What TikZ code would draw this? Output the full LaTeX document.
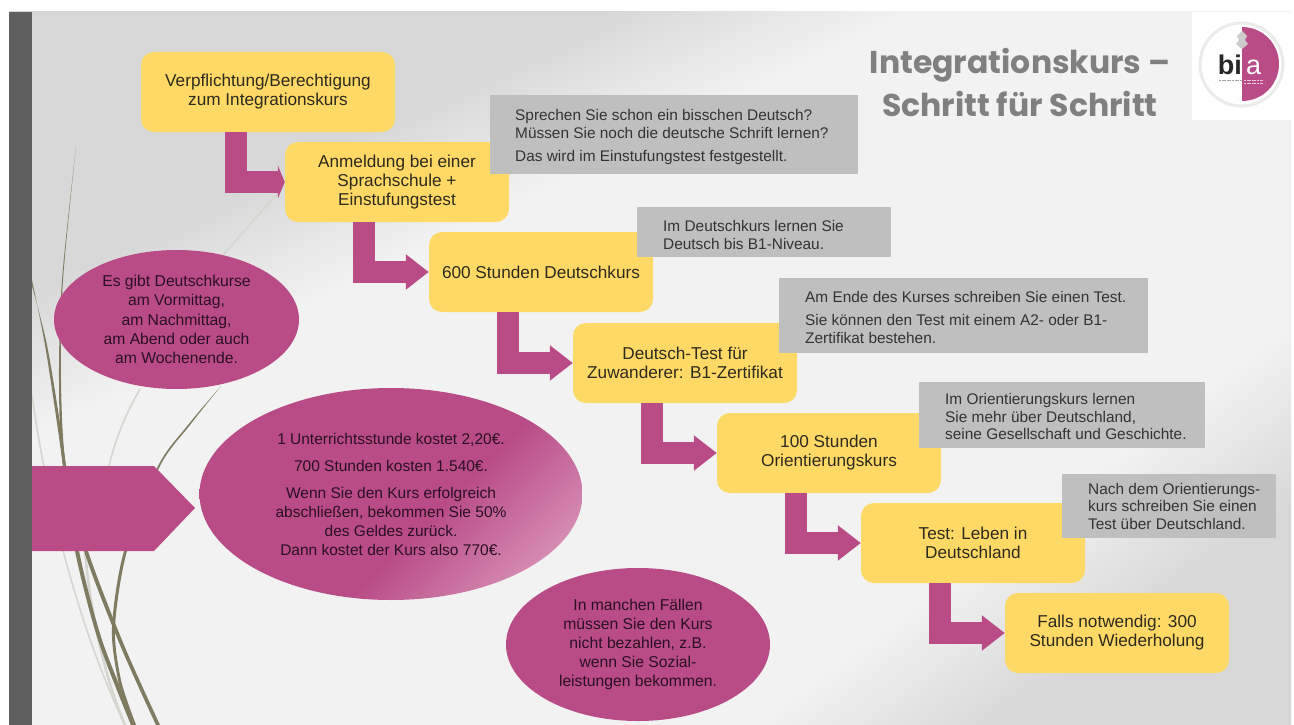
\documentclass[tikz,border=0pt]{standalone}
\usepackage{fontspec}
\setmainfont{Liberation Sans}
\newfontfamily\titlefont{Poppins}
\usetikzlibrary{arrows.meta,shapes.geometric,calc}
\definecolor{mag}{HTML}{B94C87}
\definecolor{magl}{HTML}{D78FB5}
\definecolor{yel}{HTML}{FFD966}
\definecolor{gbox}{HTML}{BFBFBF}
\definecolor{bar}{HTML}{5F5F5F}
\definecolor{bgl}{HTML}{F2F2F2}
\definecolor{bgd}{HTML}{D8D8D8}
\definecolor{stalk}{HTML}{7F7B60}
\definecolor{stalkl}{HTML}{D6D6D0}
\definecolor{ink}{HTML}{2E2A1E}
\definecolor{inkm}{HTML}{2B0F22}
\definecolor{inkg}{HTML}{333333}
\pgfdeclareverticalshading{bgA}{100bp}{color(0bp)=(bgl); color(55bp)=(bgl); color(58.25bp)=(bgd); color(100bp)=(bgd)}
\pgfdeclareverticalshading{bgB}{100bp}{color(0bp)=(bgl); color(58.9bp)=(bgl); color(62.5bp)=(bgd); color(100bp)=(bgd)}
\pgfdeclareverticalshading{bubbleshade}{100bp}{color(0bp)=(magl); color(29bp)=(magl); color(44bp)=(mag); color(100bp)=(mag)}
\tikzset{
  stepbox/.style={fill=yel,rounded corners=13pt,minimum width=224pt,minimum height=80pt,inner sep=0pt,align=center,text=ink,font=\fontsize{17.2}{19}\selectfont},
  notebox/.style={fill=gbox,inner sep=0pt,anchor=north west},
  notetext/.style={inner sep=0pt,align=left,text=inkg,anchor=west,font=\fontsize{15.4}{17.6}\selectfont},
  bubble/.style={ellipse,fill=mag,inner sep=0pt,align=center,text=inkm,font=\fontsize{15.7}{19.2}\selectfont},
  flow/.style={draw=mag,line width=22pt,-{Triangle[length=23pt,width=34pt]}},
  flowshort/.style={draw=mag,line width=22pt,-{Triangle[length=7pt,width=33pt]}},
  stalkfill/.style={fill=stalk},
  faint/.style={draw=stalkl,line width=1.6pt,line cap=round}
}
\newcommand{\taper}[3]{\fill[#1] plot[smooth] coordinates {#2} -- plot[smooth] coordinates {#3} -- cycle;}
\begin{document}
\begin{tikzpicture}[x=1pt,y=-1pt]
\useasboundingbox (0,0) rectangle (1294,725);
\fill[white] (0,0) rectangle (1294,725);
\begin{scope}
\clip (9,12) rectangle (1291,725);
\fill[bgl] (9,12) rectangle (1291,725);
\shade[shading=bgA,shading angle=25.7] (-350,-640) rectangle (1650,1360);
\begin{scope}
\clip (700,725) -- (1291,280) -- (1291,725) -- cycle;
\shade[shading=bgB,shading angle=-143.3] (-350,-640) rectangle (1650,1360);
\end{scope}
% stalks
\draw[faint] (285,185) -- (223,255);
\draw[faint] (140,389) .. controls (125,415) and (115,440) .. (108,470);
\draw[faint] (32,395) .. controls (42,470) and (70,610) .. (125,725);
\draw[faint,line width=2.6pt] (85,551) .. controls (90,610) and (105,680) .. (125,725);
\taper{stalkfill}{(76,147) (62,280) (59,380) (63,466) (84,551) (120,645) (156,725)}{(160,725) (124,645) (88,551) (66,466) (61,380) (63,280) (76,147)}
\taper{stalkfill}{(32,280) (45,345) (57,423) (63,466) (75,551) (98,640) (131,725)}{(136,725) (102,640) (79,551) (66,466) (60,423) (47,345) (32,286)}
\taper{stalkfill}{(221,386) (188,425) (158,466) (124,551) (112,627) (118,680) (131,725)}{(136,725) (121,680) (115,627) (127,551) (160,466) (190,425) (221,386)}
\fill[bar] (9,12) rectangle (32,725);
\end{scope}
% logo
\fill[white] (1192,12) rectangle (1294,120);
\draw[draw=black!8,line width=3pt] (1241.5,64.5) circle[radius=41.5];
\fill[mag] (1242,27) arc[start angle=-90,end angle=90,x radius=37,y radius=37] -- cycle;
\node[inner sep=0pt,text=black!85!white,font=\bfseries\fontsize{27}{27}\selectfont,anchor=base east] (logobi) at (1242,75) {bi};
\node[inner sep=0pt,text=white,font=\fontsize{27}{27}\selectfont,anchor=base west] (logoa) at (1246,75) {a};
\draw[black!35,line width=.8pt,dash pattern=on 2pt off .6pt] (1219,80) -- (1242,80);
\draw[white!70!mag,line width=.8pt,dash pattern=on 2pt off .6pt] (1244,80) -- (1263,80);
\draw[white!70!mag,line width=.8pt,dash pattern=on 2pt off .6pt] (1244,83.5) -- (1263,83.5);
\fill[black!20] (1242,31) -- (1247,36) -- (1245,40) -- (1248,44) -- (1242,49) -- (1236,44) -- (1239,40) -- (1237,36) -- cycle;
% title
\node[inner sep=0pt,text=black!50,font=\titlefont\bfseries\fontsize{31.5}{43}\selectfont,align=center] (title) at (1020,83) {Integrationskurs –\\Schritt für Schritt};
% pentagon
\fill[mag] (32,466) -- (154,466) -- (195,508) -- (154,551) -- (32,551) -- cycle;
% bubbles
\node[bubble,minimum width=245pt,minimum height=139pt] (e1) at (176.5,319.5) {Es gibt Deutschkurse\\am Vormittag,\\am Nachmittag,\\am Abend oder auch\\am Wochenende.};
\begin{scope}
\clip (391,494) ellipse[x radius=191.5,y radius=106];
\shade[shading=bubbleshade,shading angle=45] (199.5,302.5) rectangle (582.5,685.5);
\end{scope}
\node[bubble,fill=none,minimum width=383pt,minimum height=212pt,font=\fontsize{15.5}{18.8}\selectfont] (e2) at (391,494) {1 Unterrichtsstunde kostet 2,20€.\\[8.5pt]700 Stunden kosten 1.540€.\\[8.5pt]Wenn Sie den Kurs erfolgreich\\abschließen, bekommen Sie 50\%\\des Geldes zurück.\\Dann kostet der Kurs also 770€.};
\node[bubble,minimum width=264pt,minimum height=153pt] (e3) at (638,644.5) {In manchen Fällen\\müssen Sie den Kurs\\nicht bezahlen, z.B.\\wenn Sie Sozial-\\leistungen bekommen.};
% step boxes
\node[stepbox,minimum width=254pt] (b1) at (268,92) {Verpflichtung/Berechtigung\\zum Integrationskurs};
\node[stepbox] (b2) at (397,182) {Anmeldung bei einer\\Sprachschule +\\Einstufungstest};
\node[stepbox] (b3) at (541,272) {600 Stunden Deutschkurs};
\node[stepbox] (b4) at (685,363) {Deutsch-Test für\\Zuwanderer: B1-Zertifikat};
\node[stepbox] (b5) at (829,453) {100 Stunden\\Orientierungskurs};
\node[stepbox] (b6) at (973,543) {Test: Leben in\\Deutschland};
\node[stepbox] (b7) at (1117,633) {Falls notwendig: 300\\Stunden Wiederholung};
% connectors
\draw[flowshort] ([xshift=-32pt]b1.south) |- (b2.west);
\draw[flow] ([xshift=-33pt]b2.south) |- (b3.west);
\draw[flow] ([xshift=-33pt]b3.south) |- (b4.west);
\draw[flow] ([xshift=-33pt]b4.south) |- (b5.west);
\draw[flow] ([xshift=-33pt]b5.south) |- (b6.west);
\draw[flow] ([xshift=-33pt]b6.south) |- (b7.west);
% notes
\node[notebox,minimum width=368pt,minimum height=79pt] (g1) at (490,95) {};
\node[notetext] (g1t) at ([xshift=25pt,yshift=-2.5pt]g1.west) {Sprechen Sie schon ein bisschen Deutsch?\\Müssen Sie noch die deutsche Schrift lernen?\\[6pt]Das wird im Einstufungstest festgestellt.};
\node[notebox,minimum width=254pt,minimum height=50pt] (g2) at (637,207) {};
\node[notetext] (g2t) at ([xshift=26pt,yshift=-2.5pt]g2.west) {Im Deutschkurs lernen Sie\\Deutsch bis B1-Niveau.};
\node[notebox,minimum width=369pt,minimum height=75pt] (g3) at (779,278) {};
\node[notetext] (g3t) at ([xshift=26pt,yshift=-1.5pt]g3.west) {Am Ende des Kurses schreiben Sie einen Test.\\[6pt]Sie können den Test mit einem A2- oder B1-\\Zertifikat bestehen.};
\node[notebox,minimum width=286pt,minimum height=66pt] (g4) at (919,382) {};
\node[notetext] (g4t) at ([xshift=26pt,yshift=-1.5pt]g4.west) {Im Orientierungskurs lernen\\Sie mehr über Deutschland,\\seine Gesellschaft und Geschichte.};
\node[notebox,minimum width=214pt,minimum height=64pt] (g5) at (1062,474) {};
\node[notetext] (g5t) at ([xshift=26pt]g5.west) {Nach dem Orientierungs-\\kurs schreiben Sie einen\\Test über Deutschland.};
\end{tikzpicture}
\end{document}
